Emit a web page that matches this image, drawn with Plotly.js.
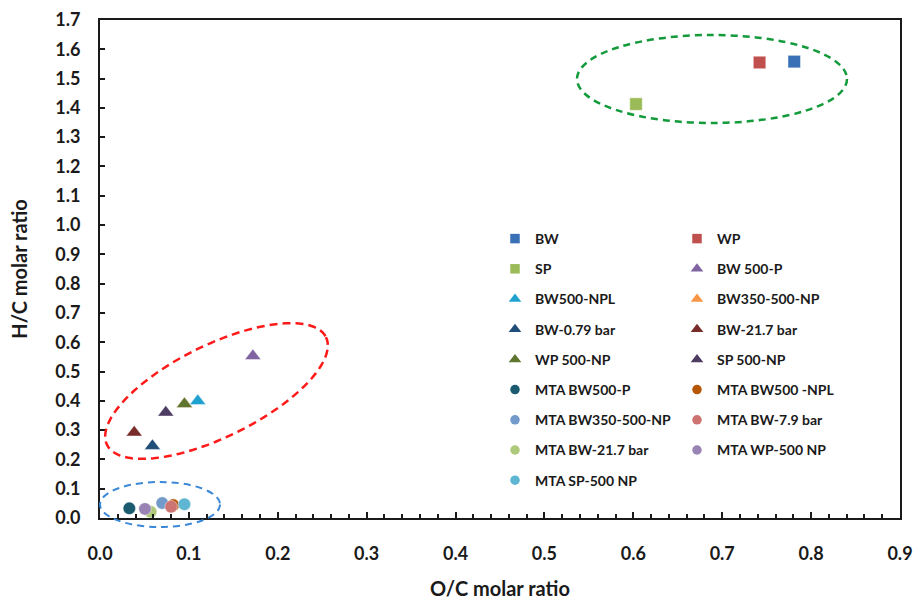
<!DOCTYPE html>
<html>
<head>
<meta charset="utf-8">
<script src="https://cdn.plot.ly/plotly-3.0.1.min.js"></script>
<style>html,body{margin:0;padding:0;background:#fff}#chart{width:915px;height:600px}</style>
</head>
<body>
<div id="chart"></div>
<script>
// ---- data ----
const seriesNames = ['BW','WP','SP','BW 500-P','BW500-NPL','BW350-500-NP','BW-0.79 bar','BW-21.7 bar',
  'WP 500-NP','SP 500-NP','MTA BW500-P','MTA BW500 -NPL','MTA BW350-500-NP','MTA BW-7.9 bar',
  'MTA BW-21.7 bar','MTA WP-500 NP','MTA SP-500 NP'];
const ocRatio = [0.781,0.742,0.603,0.172,0.110,0.095,0.059,0.0385,0.095,0.074,0.033,0.0824,0.070,0.080,0.057,0.0506,0.095];
const hcRatio = [1.558,1.555,1.413,0.553,0.399,0.389,0.246,0.292,0.389,0.360,0.033,0.044,0.051,0.0385,0.021,0.031,0.047];
const markerSymbols = ['square','square','square','triangle-up','triangle-up','triangle-up','triangle-up','triangle-up',
  'triangle-up','triangle-up','circle','circle','circle','circle','circle','circle','circle'];
const markerColors = ['#3a70b6','#c0504d','#9bbb59','#8064a2','#1fa2cf','#f79646','#1f4e79','#772c2a',
  '#5f7530','#4d3b62','#1a5b70','#b65708','#729aca','#cd7371','#afc97a','#9983b5','#5fb6d2'];
const legendColumn = [1,2,1,2,1,2,1,2,1,2,1,2,1,2,1,2,1];
const xTickFormat = '.1f';

// ---- styling ----
const FONT = 'Lato, "Open Sans", sans-serif';
const INK = '#1a1a1a';
const M = {l:100, r:15, t:20, b:82};
const W = 915, H = 600;
const PW = W - M.l - M.r, PH = H - M.t - M.b;
const px = X => (X - M.l) / PW;
const py = Y => 1 - (Y - M.t) / PH;

function rotatedEllipsePath(cx, cy, a, b, deg) {
  const th = deg * Math.PI / 180;
  let d = '';
  for (let i = 0; i <= 96; i++) {
    const t = 2 * Math.PI * i / 96;
    const X = cx + a * Math.cos(t) * Math.cos(th) + b * Math.sin(t) * Math.sin(th);
    const Y = cy - a * Math.cos(t) * Math.sin(th) + b * Math.sin(t) * Math.cos(th);
    d += (i === 0 ? 'M' : 'L') + px(X).toFixed(5) + ',' + py(Y).toFixed(5);
  }
  return d + 'Z';
}

const traces = [];
seriesNames.forEach((name, i) => {
  const big = markerSymbols[i] === 'triangle-up' ? 14 : 12.5;
  traces.push({
    type: 'scatter', mode: 'markers', name: name,
    x: [ocRatio[i]], y: [hcRatio[i]],
    marker: {symbol: markerSymbols[i], size: big, color: markerColors[i],
             line: {color: 'rgba(255,255,255,0.55)', width: 0.8}},
    cliponaxis: false, showlegend: false, hoverinfo: 'name+x+y'
  });
});
seriesNames.forEach((name, i) => {
  traces.push({
    type: 'scatter', mode: 'markers', name: name,
    x: [null], y: [null],
    marker: {symbol: markerSymbols[i], size: markerSymbols[i] === 'triangle-up' ? 11 : 9.5, color: markerColors[i]},
    legend: legendColumn[i] === 1 ? 'legend' : 'legend2',
    legendgroup: 'g' + i, showlegend: true
  });
});

const axisCommon = {
  showline: true, linewidth: 2, linecolor: INK, mirror: true,
  showgrid: false, zeroline: false,
  ticks: 'inside', tickcolor: INK, tickwidth: 1.5,
  tickfont: {family: FONT, size: 18, weight: 700, color: INK},
  tickformat: xTickFormat, tick0: 0, dtick: 0.1, fixedrange: true
};

const legendCommon = {
  xanchor: 'left', yanchor: 'top', bgcolor: 'rgba(0,0,0,0)',
  font: {family: FONT, size: 14, weight: 700, color: INK},
  tracegroupgap: 9.0, itemclick: false, itemdoubleclick: false
};

const layout = {
  width: W, height: H, margin: M,
  paper_bgcolor: '#fff', plot_bgcolor: 'rgba(0,0,0,0)',
  font: {family: FONT, color: INK},
  xaxis: Object.assign({}, axisCommon, {
    range: [0, 0.9], ticklen: 6, ticklabelstandoff: 18,
    minor: {dtick: 0.02, ticks: 'inside', ticklen: 4, tickwidth: 1.5, tickcolor: INK},
    title: {text: 'O/C molar ratio', font: {family: FONT, size: 20, weight: 700, color: INK}, standoff: 22}
  }),
  yaxis: Object.assign({}, axisCommon, {
    range: [0, 1.7], ticklen: 5, ticklabelstandoff: 14,
    title: {text: 'H/C molar ratio', font: {family: FONT, size: 20, weight: 700, color: INK}, standoff: 22}
  }),
  legend: Object.assign({}, legendCommon, {x: px(495), y: py(223)}),
  legend2: Object.assign({}, legendCommon, {x: px(677), y: py(223)}),
  showlegend: true,
  shapes: [
    {type: 'circle', xref: 'paper', yref: 'paper', x0: px(577), x1: px(847), y0: py(123), y1: py(35),
     line: {color: '#139a3b', width: 2.5, dash: '7px,5px'}},
    {type: 'path', xref: 'paper', yref: 'paper', path: rotatedEllipsePath(216.5, 391, 122, 46, 26.2),
     line: {color: '#ff1a1a', width: 2.5, dash: '8px,5px'}},
    {type: 'circle', xref: 'paper', yref: 'paper', x0: px(100), x1: px(220), y0: py(527), y1: py(482),
     line: {color: '#3b88d8', width: 2, dash: '7px,5px'}}
  ]
};

Plotly.newPlot('chart', traces, layout, {displayModeBar: false});
</script>
</body>
</html>
